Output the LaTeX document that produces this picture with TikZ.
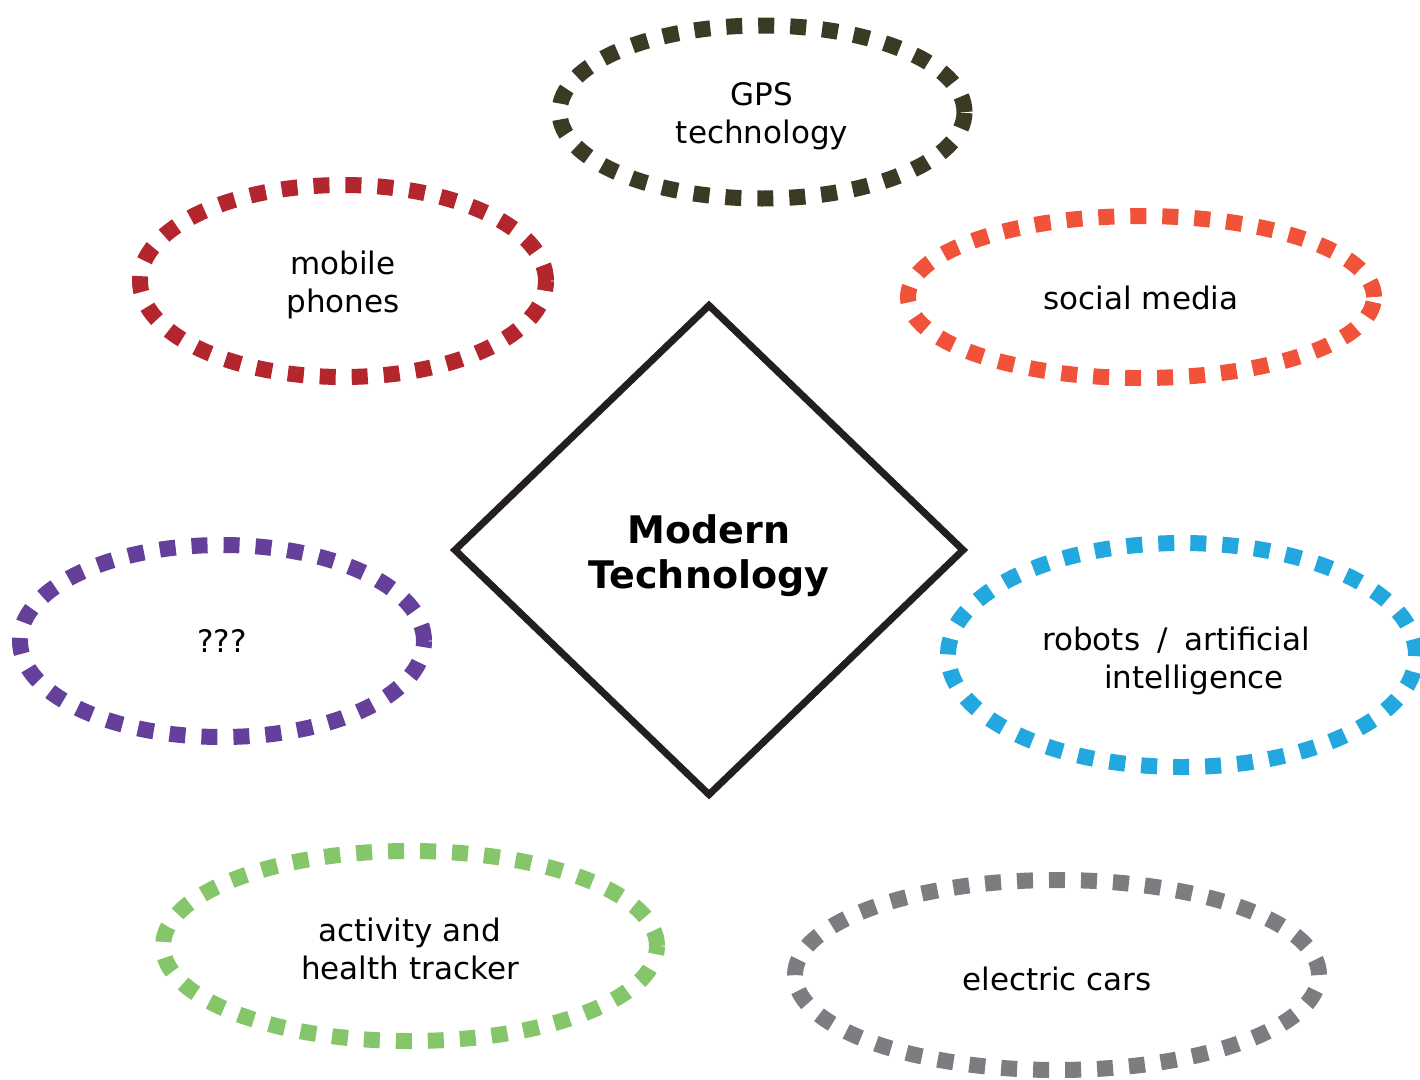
\documentclass[tikz,border=0pt]{standalone}
\usepackage{fontspec}
\setmainfont{DejaVu Sans}
\usetikzlibrary{shapes.geometric}
\definecolor{cgps}{HTML}{3B3A24}
\definecolor{cmob}{HTML}{B3262D}
\definecolor{csoc}{HTML}{F05339}
\definecolor{cunk}{HTML}{65409A}
\definecolor{crob}{HTML}{22A8DE}
\definecolor{cact}{HTML}{85C66B}
\definecolor{cele}{HTML}{7C7D81}
\definecolor{cdia}{HTML}{231F20}
\tikzset{
  bubble/.style={ellipse, draw=#1, line width=16pt, dash pattern=on 16pt off 16pt,
    line cap=butt, inner sep=0pt},
  txt/.style={inner sep=0pt, align=center, text=black,
    font=\fontsize{31}{38}\selectfont},
  hub/.style={diamond, draw=cdia, line width=7pt, inner sep=0pt, aspect=1.04,
    minimum width=511pt, minimum height=492pt},
  hubtxt/.style={inner sep=0pt, align=center, font=\fontsize{38}{45}\selectfont\bfseries},
}
\begin{document}
\begin{tikzpicture}[x=1pt,y=-1pt]
\useasboundingbox (0,0) rectangle (1420,1079);
\clip (0,0) rectangle (1420,1079);
\node[hub] (hub) at (709,550) {};
\node[hubtxt] (hubt) at (709,556) {Modern\\Technology};
\node[bubble=cgps, minimum width=405pt, minimum height=173pt] (gps) at (762,112) {};
\node[txt] (gpst) at (762,116) {GPS\\technology};
\node[bubble=cmob, minimum width=406pt, minimum height=192pt] (mob) at (343,281) {};
\node[txt] (mobt) at (343,285) {mobile\\phones};
\node[bubble=csoc, minimum width=466pt, minimum height=162pt] (soc) at (1141,297) {};
\node[txt] (soct) at (1141,298) {social media};
\node[bubble=cunk, minimum width=404pt, minimum height=192pt] (unk) at (222,641) {};
\node[txt] (unkt) at (222,641) {???};
\node[bubble=crob, minimum width=468pt, minimum height=224pt] (rob) at (1182,655) {};
\node[txt] (robt) at (1182,660.5) {robots\hspace{17pt}/\hspace{17pt}artificial\hspace*{12pt}\\\hspace*{24pt}intelligence};
\node[bubble=cact, minimum width=494pt, minimum height=190pt] (act) at (410,946) {};
\node[txt] (actt) at (410,948.5) {activity and\\health tracker};
\node[bubble=cele, minimum width=524pt, minimum height=190pt] (ele) at (1057,975) {};
\node[txt] (elet) at (1057,979) {electric cars};
\end{tikzpicture}
\end{document}
